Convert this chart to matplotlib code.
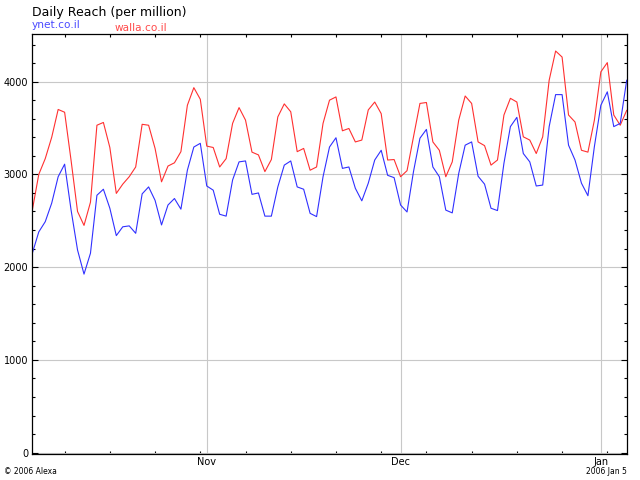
import numpy as np
import pandas as pd
import matplotlib
matplotlib.use("Agg")
from matplotlib import pyplot as plt
from matplotlib import dates as mdates
from matplotlib.ticker import MultipleLocator

plt.rcParams["font.family"] = ["DejaVu Sans"]

# daily reach per million, Oct 5 2005 - Jan 5 2006
days = pd.date_range("2005-10-05", "2006-01-05", freq="D")
walla = [
    2615, 3000, 3170, 3400, 3700, 3670, 3150, 2600, 2450, 2700,
    3530, 3560, 3290, 2795, 2895, 2975, 3080, 3540, 3530, 3280,
    2920, 3090, 3125, 3245, 3745, 3935, 3810, 3305, 3290, 3080,
    3170, 3550, 3720, 3585, 3240, 3210, 3030, 3160, 3620, 3760,
    3675, 3245, 3280, 3045, 3080, 3550, 3800, 3835, 3470, 3495,
    3350, 3370, 3695, 3780, 3655, 3155, 3160, 2975, 3040, 3405,
    3765, 3775, 3350, 3260, 2975, 3135, 3585, 3845, 3765, 3350,
    3310, 3100, 3155, 3640, 3820, 3780, 3405, 3370, 3225, 3405,
    4015, 4330, 4265, 3640, 3565, 3260, 3240, 3585, 4105, 4205,
    3640, 3530, 3690,
]
ynet = [
    2150, 2380, 2490, 2690, 2975, 3110, 2615, 2185, 1925, 2150,
    2775, 2840, 2635, 2340, 2435, 2445, 2365, 2790, 2865, 2720,
    2455, 2670, 2740, 2625, 3045, 3295, 3335, 2875, 2830, 2570,
    2550, 2940, 3135, 3145, 2785, 2800, 2550, 2550, 2865, 3100,
    3145, 2865, 2840, 2580, 2545, 2975, 3295, 3395, 3065, 3080,
    2850, 2715, 2905, 3155, 3260, 2990, 2965, 2670, 2595, 3030,
    3390, 3485, 3080, 2975, 2615, 2585, 3010, 3315, 3350, 2980,
    2895, 2635, 2610, 3120, 3515, 3615, 3225, 3135, 2875, 2885,
    3515, 3860, 3860, 3315, 3155, 2905, 2770, 3300, 3745, 3890,
    3515, 3550, 4015,
]
blue = "#3030ff"
red = "#ff3030"

fig = plt.figure(figsize=(6.4, 4.8), dpi=100)
ax = fig.add_axes([0.0505, 0.0542, 0.9287, 0.8743])

ax.plot(days, walla, color=red, lw=0.8)
ax.plot(days, ynet, color=blue, lw=0.8)

ax.set_xlim(days[0], days[-1])
ax.set_ylim(-14, 4510)

# axis ticks: months labelled with grid, mondays as small inward ticks
ax.xaxis.set_major_locator(mdates.MonthLocator())
ax.xaxis.set_major_formatter(mdates.DateFormatter("%b"))
ax.xaxis.set_minor_locator(mdates.WeekdayLocator(byweekday=mdates.MO))
ax.yaxis.set_major_locator(MultipleLocator(1000))
ax.yaxis.set_minor_locator(MultipleLocator(200))
ax.xaxis.set_ticks_position("both")
ax.yaxis.set_ticks_position("both")
ax.tick_params(axis="x", which="major", length=0, pad=2, labelsize=7)
ax.tick_params(axis="x", which="minor", direction="in", length=2.5, width=0.8)
ax.tick_params(axis="y", which="major", direction="in", length=4.5, width=0.8,
               pad=3, labelsize=7)
ax.tick_params(axis="y", which="minor", direction="in", length=2.5, width=0.8)

ax.grid(True, which="major", color="#c8c8c8", lw=0.8)
ax.set_axisbelow(True)
for s in ax.spines.values():
    s.set_color("black")
    s.set_linewidth(0.9)

fig.text(0.05, 0.988, "Daily Reach (per million)", fontsize=9, va="top", ha="left")
fig.text(0.05, 0.958, "ynet.co.il", fontsize=7.6, color="#4a4aff", va="top", ha="left")
fig.text(0.179, 0.953, "walla.co.il", fontsize=7.6, color="#ff4a4a", va="top", ha="left")
fig.text(0.007, 0.008, "\u00a9 2006 Alexa", fontsize=5.5, va="bottom", ha="left")
fig.text(0.979, 0.008, "2006 Jan 5", fontsize=5.5, va="bottom", ha="right")

fig.savefig("out.png", dpi=100)
